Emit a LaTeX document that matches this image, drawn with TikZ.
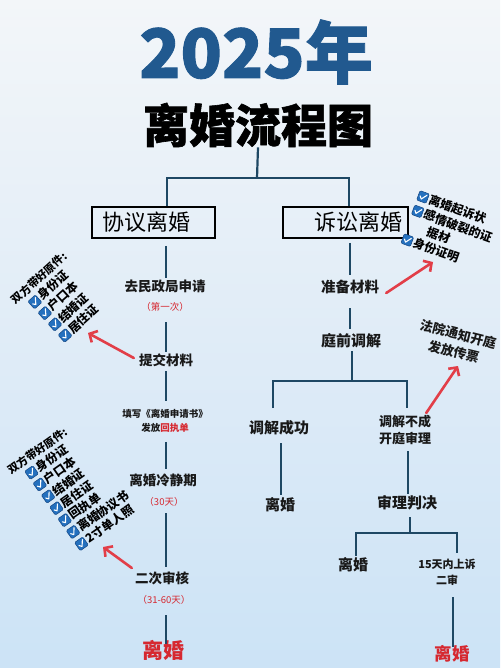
\documentclass[tikz,border=0pt]{standalone}
\usepackage{fontspec}
\setmainfont{Noto Sans CJK SC}
\newfontfamily\heavyf[BoldFeatures={FakeBold=1.3}]{Noto Sans CJK SC}
\usetikzlibrary{arrows.meta,calc}
\definecolor{bgtop}{RGB}{243,246,249}
\definecolor{bgmid}{RGB}{224,236,247}
\definecolor{bgbot}{RGB}{204,227,246}
\definecolor{titleblue}{RGB}{33,89,143}
\definecolor{flowc}{RGB}{30,72,100}
\definecolor{redt}{RGB}{214,40,48}
\definecolor{reda}{RGB}{226,62,72}
\definecolor{ckblue}{RGB}{36,112,190}
\definecolor{ckdark}{RGB}{20,70,130}
\newcommand\fs[1]{\fontsize{#1}{#1}\selectfont}
\newcommand\ckline[4]{%
  \fill[ckblue, draw=ckdark, line width=0.5pt, rounded corners=1.2pt] (#2-5,#3-5) rectangle (#2+5,#3+5);
  \draw[white, line width=1.1pt, line cap=round, line join=round] (#2-3,#3) -- (#2-1,#3-2.5) -- (#2+3.2,#3+3);
  \node[cklabel] (#1) at (#2+6.5,#3) {#4};}
\begin{document}
\begin{tikzpicture}[x=1pt,y=1pt,
  flow/.style={draw=flowc, line width=2.2pt},
  lbl/.style={inner sep=0pt, text height=0.8em, text depth=0.2em, font=\fs{#1}\bfseries, text=black!90},
  lbl/.default=14,
  note/.style={inner sep=0pt, text height=0.8em, text depth=0.2em, font=\fs{9.5}, text=redt},
  final/.style={inner sep=0pt, text height=0.8em, text depth=0.2em, font=\fs{#1}\bfseries, text=redt},
  cklabel/.style={inner sep=0pt, anchor=west, transform shape, font=\fs{12}\bfseries},
  cktitle/.style={inner sep=0pt, anchor=west, transform shape, font=\fs{11}\bfseries},
  box/.style={draw=black, line width=1.6pt, minimum height=31pt, inner ysep=0pt, font=\fs{22}},
  arr/.style={draw=reda, line width=2.6pt, line cap=round, -{Straight Barb[length=6pt,width=13pt]}}]
\useasboundingbox (0,0) rectangle (500,-668);
\shade[top color=bgtop, bottom color=bgbot, middle color=bgmid] (0,0) rectangle (500,-668);

% titles
\node[inner sep=0pt, font=\heavyf\fs{68}\bfseries, text=titleblue] (t1) at (256,-52) {2025年};
\node[inner sep=0pt, font=\heavyf\fs{46}\bfseries, text=black] (t2) at (258,-125) {离婚流程图};

% boxes
\node[box, text width=103pt, inner xsep=10pt, align=left] (boxL) at (153.5,-222.5) {协议离婚};
\node[box, text width=113pt, inner xsep=6pt, align=right] (boxR) at (345.5,-222.5) {诉讼离婚};

\coordinate (j) at (257,-178);
\coordinate (lt) at ([xshift=13.5pt]boxL.north);
\coordinate (rt) at ([xshift=3.5pt]boxR.north);
\draw[flow] (t2.south) -- (j);
\draw[flow] (lt) |- (j) -| (rt);

% left column
\node[lbl=13.5] (n1) at (165,-288) {去民政局申请};
\node[note] (n1r) at (165,-307) {（第一次）};
\node[lbl=13.5] (n2) at (166,-362) {提交材料};
\node[inner sep=0pt, align=center, font=\fontsize{9.5}{14}\selectfont\bfseries, text=black!90] (n3) at (165,-421)
  {填写《离婚申请书》\\发放\textcolor{redt}{回执单}};
\node[lbl=13.5] (n4) at (163,-482) {离婚冷静期};
\node[note] (n4r) at (164,-502) {（30天）};
\node[lbl=13.5] (n5) at (162,-580) {二次审核};
\node[note] (n5r) at (164,-600) {（31-60天）};
\node[final=21] (n6) at (163,-655) {离婚};

\draw[flow, shorten <=7pt, shorten >=5pt] ([xshift=1pt]n1.north |- boxL.south) -- ([xshift=1pt]n1.north);
\draw[flow, shorten <=10pt, shorten >=5pt] ([xshift=1pt]n1r.south) -- ([xshift=1pt]n1r.south |- n2.north);
\draw[flow, shorten <=4pt, shorten >=8pt] (n2.south) -- (n2.south |- n3.north);
\draw[flow, shorten <=9pt, shorten >=8pt] ([xshift=1pt]n3.south) -- ([xshift=1pt]n3.south |- n4.north);
\draw[flow, shorten <=6pt, shorten >=8pt] ([xshift=2pt]n4r.south) -- ([xshift=2pt]n4r.south |- n5.north);
\draw[flow, shorten <=10pt, shorten >=6pt] ([xshift=2pt]n5r.south) -- ([xshift=2pt]n5r.south |- n6.north);

% right column
\node[lbl=14.5] (m1) at (350,-289) {准备材料};
\node[lbl=15] (m2) at (351,-343) {庭前调解};
\node[lbl=15] (m3) at (279,-430) {调解成功};
\node[lbl=15] (m4) at (280,-507) {离婚};
\node[inner sep=0pt, align=center, font=\fontsize{13}{17}\selectfont\bfseries, text=black!90] (m5) at (405,-430)
  {调解不成\\开庭审理};
\node[lbl=15] (m6) at (407,-505) {审理判决};
\node[lbl=15] (m7) at (353,-567) {离婚};
\node[inner sep=0pt, align=center, font=\fontsize{11}{16}\selectfont\bfseries, text=black!90] (m8) at (447,-572)
  {15天内上诉\\二审};
\node[final=17.5] (m9) at (452,-657) {离婚};

\draw[flow, shorten <=4pt, shorten >=9pt] (m1.north |- boxR.south) -- (m1.north);
\draw[flow, shorten <=14pt, shorten >=9pt] (m1.south) -- (m1.south |- m2.north);
\coordinate (jr) at (352,-381);
\draw[flow, shorten <=3pt] ([xshift=1pt]m2.south) -- (jr);
\coordinate (bl) at (273,-408);
\coordinate (br) at (407,-408);
\draw[flow] (bl) |- (jr) -| (br);
\draw[flow, shorten <=8pt, shorten >=7pt] ([xshift=2pt]m3.south) -- ([xshift=2pt]m3.south |- m4.north);
\draw[flow, shorten <=6pt, shorten >=6pt] ([xshift=3pt]m5.south) -- ([xshift=3pt]m5.south |- m6.north);
\coordinate (jr2) at (410,-533);
\draw[flow, shorten <=7pt] ([xshift=3pt]m6.south) -- (jr2);
\coordinate (bl2) at (356,-556);
\coordinate (br2) at (457,-553);
\draw[flow] (bl2) |- (jr2) -| (br2);
\draw[flow, shorten <=12pt, shorten >=5pt] ([xshift=6pt]m8.south) -- ([xshift=6pt]m8.south |- m9.north);

% checklist 1
\begin{scope}[shift={(13,-301.5)}, rotate=42]
  \node[cktitle] (c1t) at (0,0) {双方带好原件:};
  \ckline{c1a}{16}{-15}{身份证}
  \ckline{c1b}{16}{-30}{户口本}
  \ckline{c1c}{16}{-45}{结婚证}
  \ckline{c1d}{16}{-60}{居住证}
\end{scope}

% checklist 2
\begin{scope}[shift={(8.5,-471)}, rotate=35]
  \node[cktitle] (c2t) at (0,0) {双方带好原件:};
  \ckline{c2a}{18}{-14.5}{身份证}
  \ckline{c2b}{18}{-29}{户口本}
  \ckline{c2c}{18}{-43.5}{结婚证}
  \ckline{c2d}{18}{-58}{居住证}
  \ckline{c2e}{18}{-72.5}{回执单}
  \ckline{c2f}{18}{-87}{离婚协议书}
  \ckline{c2g}{18}{-101.5}{2寸单人照}
\end{scope}

% checklist 3
\begin{scope}[shift={(423,-197)}, rotate=-20]
  \ckline{c3a}{0}{0}{离婚起诉状}
  \ckline{c3b}{0}{-15.3}{感情破裂的证}
  \node[cklabel] (c3c) at (15.5,-30.6) {据材};
  \ckline{c3d}{0}{-45.9}{身份证明}
\end{scope}

\node[inner sep=0pt, align=center, rotate=-14, font=\fontsize{13}{18}\selectfont\bfseries, text=black!90] (court) at (456,-343)
  {法院通知开庭\\发放传票};

% red arrows
\coordinate (tip1) at (88,-333);
\coordinate (tip2) at (433,-262);
\coordinate (tip3) at (458,-366);
\coordinate (tip4) at (103,-547);
\draw[arr] ([shift={(-5,4)}]n2.west) -- (tip1);
\draw[arr] ([shift={(7,-4)}]m1.east) -- (tip2);
\draw[arr] ([shift={(-5,2)}]m5.north east) -- (tip3);
\draw[arr] ([shift={(-3,12)}]n5.west) -- (tip4);
\end{tikzpicture}
\end{document}
